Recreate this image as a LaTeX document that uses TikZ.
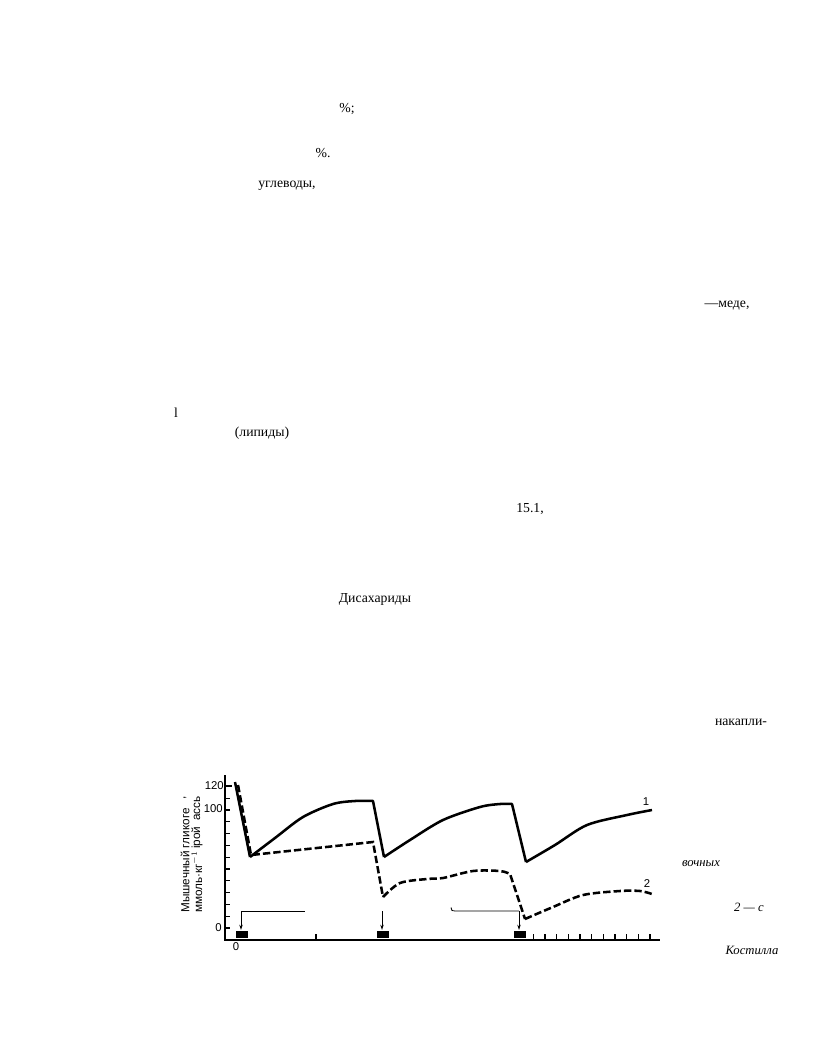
\documentclass[tikz,border=0pt]{standalone}
\usepackage{fontspec}
\setmainfont{Liberation Serif}
\newfontfamily\chartfont{Liberation Sans}
\usepackage{tikz}
\usetikzlibrary{arrows.meta}

\begin{document}
\begin{tikzpicture}[x=0.75pt, y=-0.75pt]

    \tikzset{%
        pagetext/.style={inner sep=0pt, font=\fontsize{10.3}{12}\selectfont},
        pageital/.style={inner sep=0pt, font=\fontsize{9.5}{11}\selectfont\itshape},
        charttext/.style={inner sep=0pt, font=\chartfont\fontsize{8.5}{9}\selectfont},
        titletext/.style={inner sep=0pt, font=\chartfont\fontsize{8.8}{10}\selectfont},
        axisline/.style={line width=1.3pt},
        curveone/.style={line width=1.9pt, line join=round},
        curvetwo/.style={line width=1.9pt, dash pattern=on 5.5pt off 2.3pt},
        loadarrow/.style={line width=0.6pt, -{Stealth[length=4pt, width=2.6pt]}},
    }

    \useasboundingbox (0, 0) rectangle (816, 1056);

    % text left on the page
    \node[pagetext] (pctA) at (347, 109) {\%;};
    \node[pagetext] (pctB) at (323, 153) {\%.};
    \node[pagetext] (uglevody) at (287, 186) {углеводы,};
    \node[pagetext] (mede) at (727, 306) {—меде,};
    \node[pagetext] (ell) at (176, 413) {l};
    \node[pagetext] (lipidy) at (262, 433) {(липиды)};
    \node[pagetext] (fig151) at (530, 509) {15.1,};
    \node[pagetext] (disah) at (375, 599) {Дисахариды};
    \node[pagetext] (nakapli) at (741, 722) {накапли-};
    \node[pageital] (vochnyh) at (701, 864) {вочных};
    \node[pageital] (twoc) at (749, 907) {2 — с};
    \node[pageital] (kostilla) at (752, 950) {Костилла};

    % axes
    \coordinate (origin) at (225, 940);
    \coordinate (ytop) at (225, 775);
    \coordinate (xend) at (660, 940);
    \draw[axisline] (ytop) -- (origin) -- (xend);
    \foreach \i in {0, ..., 12} {%
            \draw[line width=0.8pt] (225, {928-\i*11.8}) -- ++(4.5, 0);
        }
    \draw[line width=0.8pt] (225, 786) -- ++(7, 0);
    \draw[line width=0.8pt] (316, 940) -- ++(0, -6);
    \foreach \i in {0, ..., 10} {%
            \draw[line width=0.8pt] ({533.3+\i*11.67}, 940) -- ++(0, -6);
        }

    \node[charttext, anchor=east] (ylabA) at (224, 786) {120};
    \node[charttext, anchor=east] (ylabB) at (223, 809) {100};
    \node[charttext, anchor=east] (ylabC) at (222, 928) {0};
    \node[charttext] (xlabA) at (236, 947) {0};

    \node[titletext, rotate=90, anchor=west] (ytitleA) at (185, 913) {Мышечный гликоге};
    \node[titletext, rotate=90, anchor=west] (ytitleB) at (185, 800) {,};
    \node[titletext, rotate=90, anchor=west] (ytitleC) at (197, 913) {ммоль·кг$^{-1}$};
    \node[titletext, rotate=90, anchor=west] (ytitleD) at (197, 849) {ірой};
    \node[titletext, rotate=90, anchor=west] (ytitleE) at (197, 821) {ассь};

    % loads
    \foreach \x/\n in {242/A, 383/B, 520/C} {%
            \fill (\x-6, 931) rectangle ++(12, 7);
            \coordinate (top\n) at (\x-1, 911);
            \coordinate (load\n) at (\x-1, 930);
        }
    \draw[loadarrow] (topA) -- (loadA);
    \draw[loadarrow] (topB) -- (loadB);
    \draw[loadarrow] (topC) -- (loadC);
    \coordinate (restA) at (305, 911);
    \coordinate (hook) at (451, 907.5);
    \coordinate (restB) at (455, 911);
    \draw[line width=0.6pt] (topA) -- (restA);
    \draw[line width=0.6pt] (hook) -- (452, 910.5) -- (restB) -- (topC);

    % curve 1
    \draw[curveone] (235, 782) -- (250, 857)
        plot[smooth] coordinates {(250, 857) (275, 838) (303, 817) (333, 804) (355, 801) (373, 801)}
        -- (384, 857)
        plot[smooth] coordinates {(384, 857) (410, 840) (443, 820) (480, 807) (500, 804) (512, 804)}
        -- (526, 862)
        plot[smooth] coordinates {(526, 862) (555, 845) (587, 825) (627, 815) (652, 810)};
    \node[charttext] (labone) at (646, 802) {1};

    % curve 2
    \draw[curvetwo] (238, 785) -- (251, 855) -- (373, 842) -- (383, 897)
        plot[smooth] coordinates {(383, 897) (400, 883) (427, 879) (443, 878) (473, 871) (500, 871) (510, 874)}
        -- (525, 919)
        plot[smooth] coordinates {(525, 919) (553, 907) (583, 895) (620, 891) (640, 891) (652, 894)};
    \node[charttext] (labtwo) at (647, 884) {2};

\end{tikzpicture}
\end{document}
